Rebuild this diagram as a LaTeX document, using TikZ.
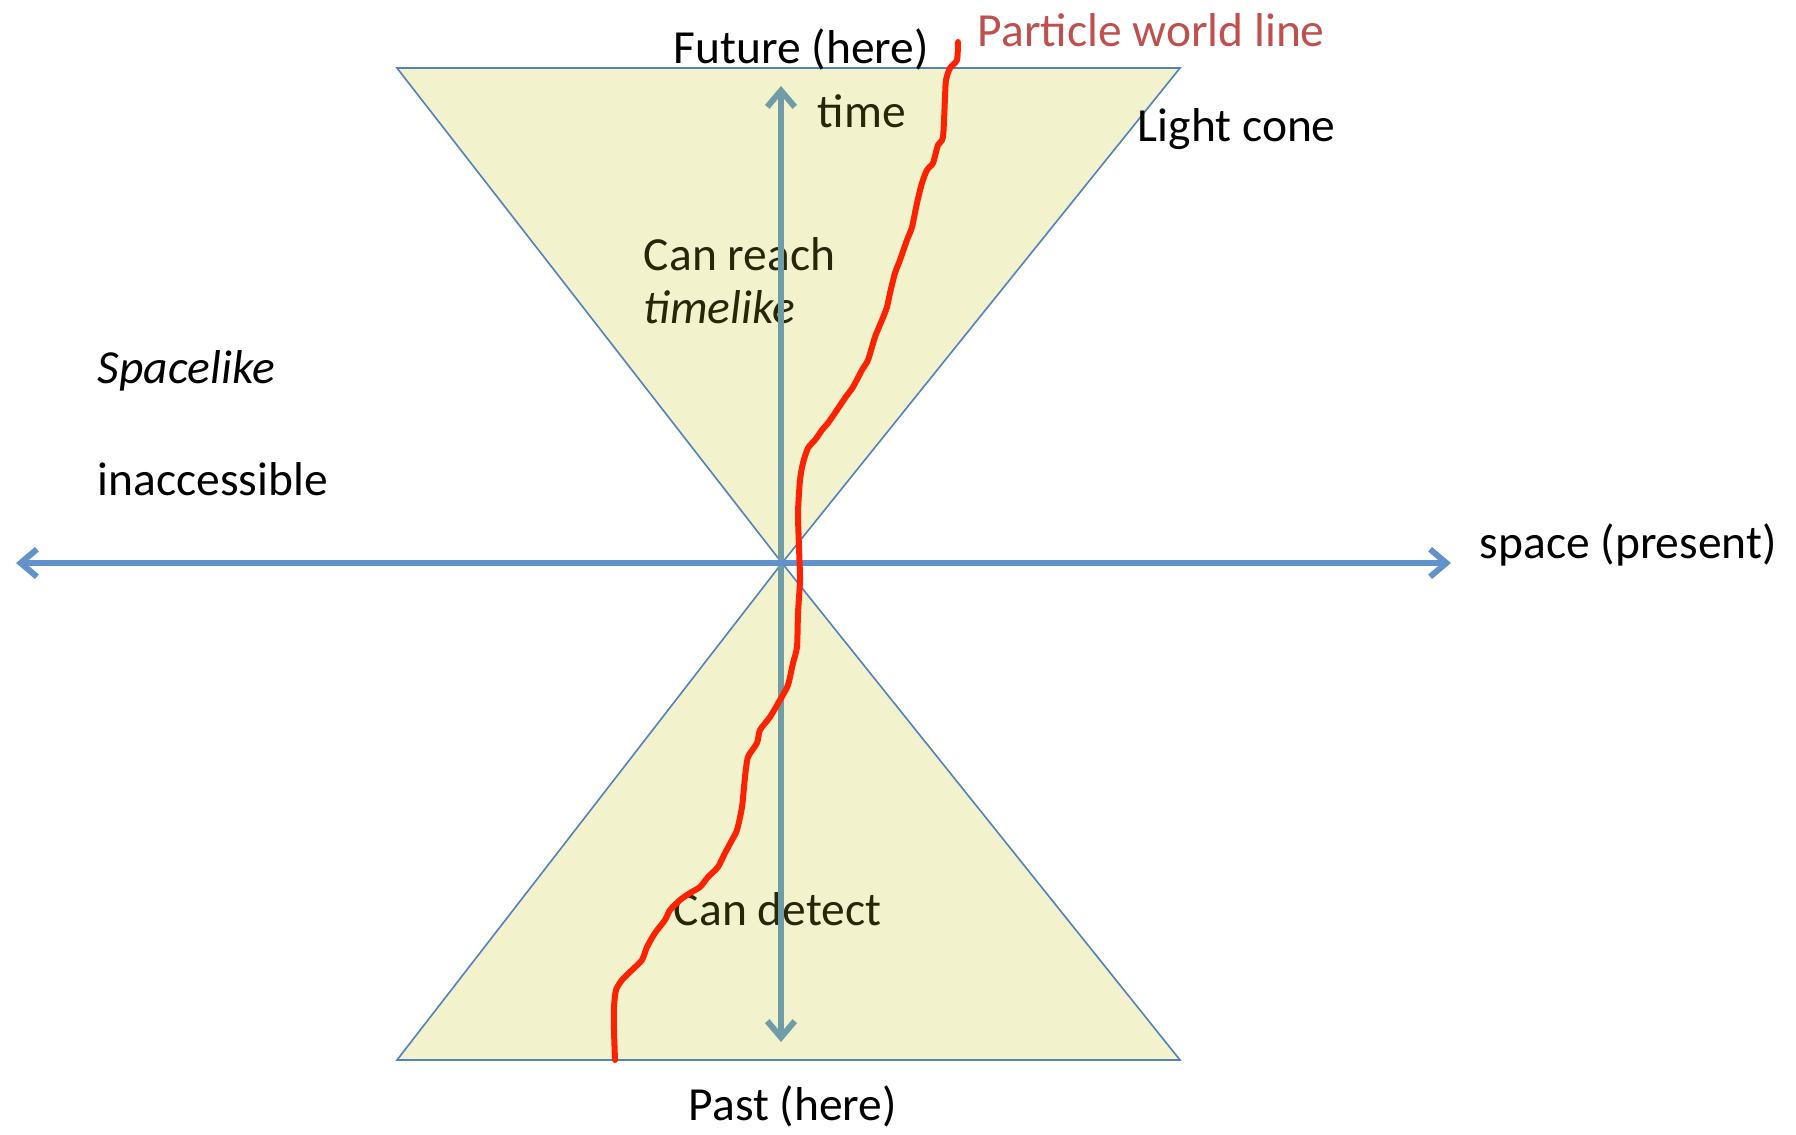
\documentclass[tikz,border=0pt]{standalone}
\usepackage{fontspec}
\setmainfont{Carlito}
\usetikzlibrary{arrows.meta,positioning}
\definecolor{conefill}{RGB}{242,242,205}
\definecolor{coneedge}{RGB}{84,130,192}
\definecolor{spaceaxis}{RGB}{98,146,202}
\definecolor{timeaxis}{RGB}{112,156,166}
\definecolor{worldred}{RGB}{255,34,0}
\definecolor{labelred}{RGB}{192,80,77}
\definecolor{innertext}{RGB}{38,38,8}
\tikzset{every picture/.style={line width=0.75pt}}
\tikzset{
  cone/.style={fill=conefill, draw=coneedge, line width=0.65pt},
  axisarrow/.style={line width=2.4pt, {Straight Barb[length=6.5pt,width=11pt]}-{Straight Barb[length=6.5pt,width=11pt]}},
  lbl/.style={font=\fontsize{19}{23}\selectfont, inner sep=0pt, anchor=base west},
  worldline/.style={worldred, line width=2.4pt, line cap=round, line join=round},
}

\begin{document}
\begin{tikzpicture}[x=0.4pt,y=-0.4pt]
    \useasboundingbox (0,0) rectangle (1796,1135);
    % 顶点与坐标轴端点
    \coordinate (O) at (782,563);
    \coordinate (W) at (16,563);
    \coordinate (E) at (1451,563);
    \coordinate (N) at (781,86);
    \coordinate (S) at (781,1042);

    % 绘制光锥
    \draw[cone] (397,68) -- (1180,68) -- (O) -- cycle;
    \draw[cone] (397,1060) -- (1180,1060) -- (O) -- cycle;

    % 标注文字
    \node[lbl] (future) at (673,63) {Future (here)};
    \node[lbl, text=labelred] (particle) at (977,46) {Particle world line};
    \node[lbl, text=innertext] (time) at (817,127) {time};
    \node[lbl] (lightcone) at (1137,141) {Light cone};
    \node[lbl, text=innertext] (reach) at (643,270) {Can reach};
    \node[lbl, text=innertext, font=\fontsize{19}{23}\selectfont\itshape] (timelike) at (643,323) {timelike};
    \node[lbl, font=\fontsize{19}{23}\selectfont\itshape] (spacelike) at (97,383) {Spacelike};
    \node[lbl] (inacc) at (97,495) {inaccessible};
    \node[lbl] (space) at (1479,558) {space (present)};
    \node[lbl, text=innertext] (detect) at (673,925) {Can detect};
    \node[lbl] (past) at (688,1120) {Past (here)};

    % 绘制坐标轴
    \draw[axisarrow, timeaxis] (S) -- (N);
    \draw[axisarrow, spaceaxis] (W) -- (E);

    % 粒子世界线
    \draw[worldline] plot[smooth, tension=0.4] coordinates {
        (958,42) (957,60) (950,68) (946,80) (945,97) (943,137) (938,145)
        (933,163) (927,170) (922,183) (917,203) (912,227) (907,240)
        (900,260) (895,273) (890,293) (887,307) (882,320) (875,337)
        (868,360) (862,370) (853,387) (845,398) (837,410) (828,423)
        (822,430) (815,440) (808,448) (803,463) (800,480) (798,513)
        (799,547) (800,580) (798,613) (797,647) (793,663) (788,685)
        (780,700) (770,717) (760,730) (757,743) (748,757) (745,777)
        (742,807) (737,830) (732,840) (725,853) (718,867) (708,877)
        (700,887) (690,893) (680,900) (670,910) (665,920) (655,933)
        (647,947) (642,960) (632,970) (622,980) (616,990) (614,1007)
        (614,1030) (615,1060)};
\end{tikzpicture}
\end{document}
